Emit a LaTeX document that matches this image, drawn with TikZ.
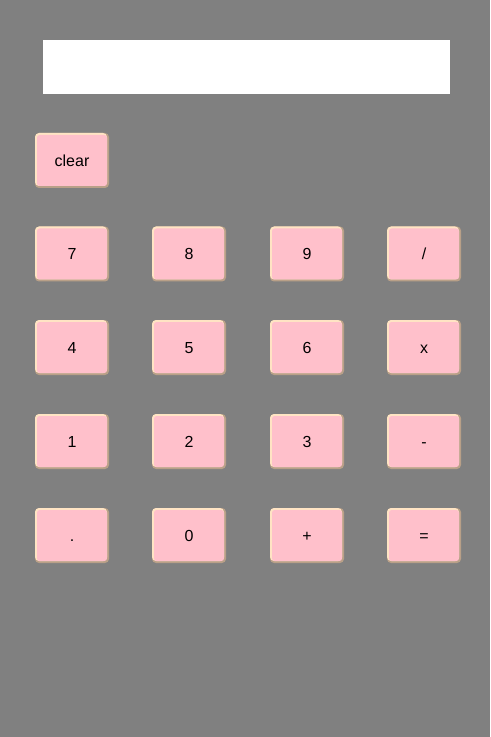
\documentclass[tikz,border=0pt]{standalone}
\usepackage{fontspec}
\setmainfont{Liberation Sans}
\definecolor{bg}{HTML}{808080}
\definecolor{btnpink}{HTML}{FFC0CB}
\definecolor{btnlight}{HTML}{FFE4C4}
\definecolor{btndark}{HTML}{B9A088}
\tikzset{
  btn/.style={fill=btndark, draw=none, rounded corners=3pt,
    minimum width=55.5pt, minimum height=41.25pt, inner sep=0pt,
    text height=8.7pt, text depth=0pt,
    font=\fontsize{12pt}{14pt}\selectfont,
    path picture={
      \fill[btnlight, rounded corners=3pt] (path picture bounding box.north west)
        rectangle ([xshift=-1.5pt,yshift=1.5pt]path picture bounding box.south east);
      \fill[btnpink, rounded corners=2pt] ([xshift=1.5pt,yshift=-1.5pt]path picture bounding box.north west)
        rectangle ([xshift=-1.5pt,yshift=1.5pt]path picture bounding box.south east);
    }},
  screen/.style={fill=white, draw=none, inner sep=0pt, minimum width=305.25pt, minimum height=40.5pt}
}
\begin{document}
\begin{tikzpicture}[x=0.75pt,y=-0.75pt]
\fill[bg] (0,0) rectangle (490,737);
\useasboundingbox (0,0) rectangle (490,737);
\node[screen] (display) at (246.5,67) {};
\node[btn] (clear) at (72,160.5) {clear};
\node[btn] (b7) at (72,254) {7};
\node[btn] (b8) at (189,254) {8};
\node[btn] (b9) at (307,254) {9};
\node[btn] (bdiv) at (424,254) {/};
\node[btn] (b4) at (72,347.5) {4};
\node[btn] (b5) at (189,347.5) {5};
\node[btn] (b6) at (307,347.5) {6};
\node[btn] (bmul) at (424,347.5) {x};
\node[btn] (b1) at (72,441.5) {1};
\node[btn] (b2) at (189,441.5) {2};
\node[btn] (b3) at (307,441.5) {3};
\node[btn] (bsub) at (424,441.5) {-};
\node[btn] (bdot) at (72,535.5) {.};
\node[btn] (b0) at (189,535.5) {0};
\node[btn] (badd) at (307,535.5) {+};
\node[btn] (beq) at (424,535.5) {=};
\end{tikzpicture}
\end{document}
